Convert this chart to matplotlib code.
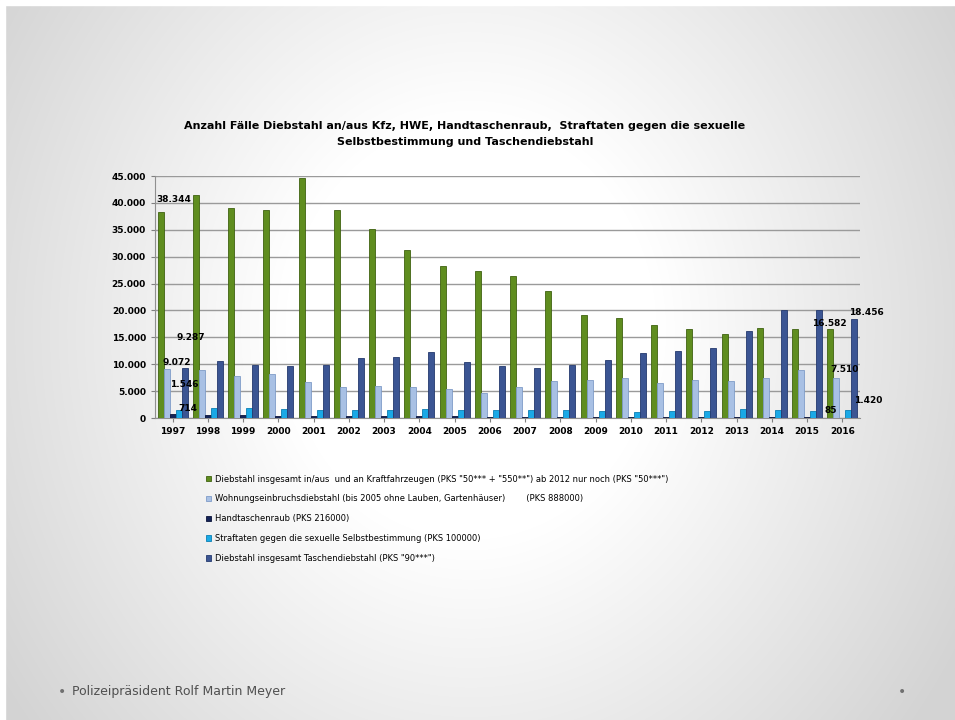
import numpy as np
import matplotlib
matplotlib.use("Agg")
import matplotlib.pyplot as plt
from matplotlib.ticker import FuncFormatter
from matplotlib.patches import Rectangle

years = [str(y) for y in range(1997, 2017)]
kfz = [38344, 41400, 39100, 38700, 44700, 38600, 35100, 31300, 28200, 27400,
       26400, 23700, 19100, 18600, 17300, 16600, 15700, 16800, 16500, 16582]
wed = [9072, 8900, 7800, 8200, 6700, 5800, 5900, 5800, 5300, 4700,
       5700, 6800, 7000, 7500, 6500, 7100, 6900, 7400, 9000, 7510]
handtasche = [714, 650, 500, 450, 420, 400, 380, 360, 330, 260,
              250, 250, 240, 220, 210, 200, 200, 160, 150, 85]
sexuell = [1546, 1900, 1800, 1700, 1500, 1500, 1500, 1600, 1500, 1400,
           1400, 1400, 1300, 1200, 1300, 1300, 1600, 1400, 1300, 1420]
tasche = [9287, 10600, 9800, 9700, 9800, 11100, 11400, 12300, 10400, 9600,
          9300, 9900, 10700, 12100, 12400, 13100, 16200, 20100, 20100, 18456]

series_labels = [
    'Diebstahl insgesamt in/aus  und an Kraftfahrzeugen (PKS "50*** + "550**") ab 2012 nur noch (PKS "50***")',
    'Wohnungseinbruchsdiebstahl (bis 2005 ohne Lauben, Gartenhäuser)        (PKS 888000)',
    'Handtaschenraub (PKS 216000)',
    'Straftaten gegen die sexuelle Selbstbestimmung (PKS 100000)',
    'Diebstahl insgesamt Taschendiebstahl (PKS "90***")',
]
colors = ['#5f8d1f', '#a8c0e4', '#142458', '#1aa9e6', '#3b5593']
edge = ['#3f6210', '#7f9cc8', '#0a1238', '#0c7fb3', '#24396e']

W, H = 955, 720
fig = plt.figure(figsize=(W / 100, H / 100), dpi=100)

# slide background gradient
bg = fig.add_axes([0, 0, 1, 1], zorder=-10)
yy, xx = np.mgrid[0:H, 0:W]
d = np.sqrt(((xx - 470) / 620.0) ** 2 + ((yy - 330) / 700.0) ** 2)
g = np.clip(1.0 - 0.28 * np.clip(d - 0.3, 0, None), 0.83, 1.0)
bg.imshow(np.dstack([g, g, g]), extent=[0, W, H, 0], aspect='auto')
bg.set_xlim(0, W)
bg.set_ylim(H, 0)
bg.add_patch(Rectangle((0, 0), W, 5, color='white', zorder=3))
bg.add_patch(Rectangle((0, 0), 5, H, color='white', zorder=3))
bg.set_axis_off()

ax = fig.add_axes([155 / W, 1 - 418 / H, (860 - 155) / W, (418 - 176) / H])
ax.set_facecolor('none')

x = np.arange(len(years))
w = 0.17
allser = [kfz, wed, handtasche, sexuell, tasche]
for i, (vals, c, ec, lab) in enumerate(zip(allser, colors, edge, series_labels)):
    ax.bar(x + (i - 2) * w, vals, width=w, color=c, edgecolor=ec, linewidth=0.6,
           label=lab, zorder=3)

ax.set_xlim(-0.5, len(years) - 0.5)
ax.set_ylim(0, 45000)
ax.set_yticks(np.arange(0, 45001, 5000))
ax.yaxis.set_major_formatter(FuncFormatter(lambda v, p: f"{int(v):,}".replace(",", ".")))
ax.set_xticks(x)
ax.set_xticklabels(years)
ax.tick_params(axis='both', labelsize=6.5, length=3, color='#808080')
for t in ax.get_xticklabels() + ax.get_yticklabels():
    t.set_fontweight('bold')
ax.grid(axis='y', color='#9a9a9a', linewidth=1.0, zorder=0)
for s in ['top', 'right']:
    ax.spines[s].set_visible(False)
ax.spines['left'].set_color('#909090')
ax.spines['bottom'].set_color('#909090')

def fmt(v):
    return f"{v:,}".replace(",", ".")

lab_kw = dict(fontsize=6.5, fontweight='bold', textcoords='offset points', zorder=5)
# 1997 labels
ax.annotate(fmt(kfz[0]), (x[0] - 2 * w, kfz[0]), xytext=(-3, 7), ha='left', **lab_kw)
ax.annotate(fmt(tasche[0]), (x[0] + 2 * w, tasche[0]), xytext=(-6, 20), ha='left', **lab_kw)
ax.annotate(fmt(wed[0]), (x[0] - w, wed[0]), xytext=(-3, 3), ha='left', **lab_kw)
ax.annotate(fmt(sexuell[0]), (x[0] + w, sexuell[0]), xytext=(-6, 16), ha='left', **lab_kw)
ax.annotate(fmt(handtasche[0]), (x[0], handtasche[0]), xytext=(4, 2), ha='left', **lab_kw)
# 2016 labels
n = len(years) - 1
ax.annotate(fmt(tasche[n]), (x[n] + 2 * w, tasche[n]), xytext=(-4, 3), ha='left', **lab_kw)
ax.annotate(fmt(kfz[n]), (x[n] - 2 * w, kfz[n]), xytext=(-13, 2), ha='left', **lab_kw)
ax.annotate(fmt(wed[n]), (x[n] - w, wed[n]), xytext=(-4, 4), ha='left', **lab_kw)
ax.annotate(fmt(sexuell[n]), (x[n] + w, sexuell[n]), xytext=(4, 5), ha='left', **lab_kw)
ax.annotate(fmt(handtasche[n]), (x[n], handtasche[n]), xytext=(-13, 3), ha='left', **lab_kw)

fig.text(465 / W, 1 - 126 / H, 'Anzahl Fälle Diebstahl an/aus Kfz, HWE, Handtaschenraub,  Straftaten gegen die sexuelle',
         ha='center', va='center', fontsize=8, fontweight='bold')
fig.text(465 / W, 1 - 142 / H, 'Selbstbestimmung und Taschendiebstahl',
         ha='center', va='center', fontsize=8, fontweight='bold')

handles, labels = ax.get_legend_handles_labels()
leg = fig.legend(handles, labels, loc='upper left', bbox_to_anchor=(198 / W, 1 - 467 / H),
                 frameon=False, fontsize=6, ncol=1, handlelength=0.6, handleheight=0.6,
                 handletextpad=0.5, labelspacing=1.3)

fig.text(58 / W, 1 - 692 / H, '•', color='#707070', fontsize=10, va='center')
fig.text(72 / W, 1 - 692 / H, 'Polizeipräsident Rolf Martin Meyer', color='#505050',
         fontsize=9, va='center')
fig.text(898 / W, 1 - 692 / H, '•', color='#707070', fontsize=10, va='center')

fig.savefig('out.png', dpi=100)
